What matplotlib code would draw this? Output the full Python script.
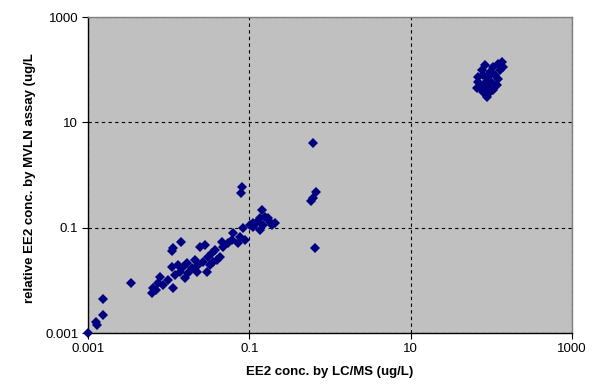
import matplotlib
matplotlib.use("Agg")
import matplotlib.pyplot as plt
from matplotlib.ticker import FixedLocator, FixedFormatter, NullLocator

plt.rcParams['font.family'] = ['Liberation Sans', 'DejaVu Sans']

# LC/MS concentration (ug/L) vs relative MVLN assay concentration (ug/L)
lcms = [0.001, 0.00126, 0.00128, 0.00152, 0.00152, 0.00338, 0.00644, 0.00743, 0.0078,
        0.00857, 0.00989, 0.0114, 0.012, 0.0109, 0.0132, 0.0138, 0.0152, 0.0159, 0.0167,
        0.0175, 0.0193, 0.0212, 0.0222, 0.0233, 0.0269, 0.0142, 0.0114, 0.0109, 0.0244,
        0.0062, 0.00697, 0.0282, 0.031, 0.0341, 0.0375, 0.0394, 0.0433, 0.0454, 0.0475,
        0.0548, 0.0604, 0.0631, 0.0728, 0.0764, 0.0839, 0.0881, 0.0296, 0.0325, 0.0354,
        0.0804, 0.0797, 0.142, 0.135, 0.156, 0.18, 0.123, 0.149, 0.135, 0.112, 0.102,
        0.189, 0.207, 0.171, 0.112, 0.608, 0.668, 0.62, 0.575, 0.65,
        68.6, 65.6, 87.3, 121, 134, 140, 83, 75.6, 95.7, 110, 121, 100, 83, 72, 91.2,
        116, 79, 105, 127, 91.2, 79, 68.6, 105, 95.7]
mvln = [0.001, 0.00162, 0.00142, 0.0022, 0.00436, 0.009, 0.00705, 0.00877, 0.0117,
        0.00815, 0.0101, 0.00705, 0.0126, 0.0181, 0.0195, 0.0146, 0.0181, 0.0109, 0.021,
        0.0136, 0.0169, 0.0243, 0.0146, 0.0195, 0.0225, 0.0526, 0.0416, 0.036, 0.0435,
        0.00574, 0.00655, 0.0468, 0.0281, 0.0325, 0.0376, 0.0243, 0.0281, 0.054, 0.0435,
        0.0504, 0.0582, 0.078, 0.0504, 0.0671, 0.097, 0.0582, 0.0146, 0.0195, 0.0222,
        0.582, 0.448, 0.216, 0.15, 0.161, 0.129, 0.129, 0.112, 0.09, 0.104, 0.112,
        0.112, 0.121, 0.15, 0.121, 4.08, 0.48, 0.36, 0.324, 0.0416,
        72.9, 44, 30.5, 131, 141, 113, 122, 98, 90.8, 78.7, 68, 58.7, 54.7, 47.2, 44,
        50.8, 37.9, 40.8, 98, 72.9, 78.7, 58.7, 113, 37.9]

tick_vals = [0.001, 0.1, 10, 1000]
tick_labels = ["0.001", "0.1", "10", "1000"]

fig = plt.figure(figsize=(6.0, 3.87), dpi=100)
ax = fig.add_axes([0.1467, 0.1395, 0.8067, 0.8165])
ax.set_facecolor('#C0C0C0')
ax.set_xscale('log')
ax.set_yscale('log')
ax.set_xlim(0.001, 1000)
ax.set_ylim(0.001, 1000)

for axis in (ax.xaxis, ax.yaxis):
    axis.set_major_locator(FixedLocator(tick_vals))
    axis.set_major_formatter(FixedFormatter(tick_labels))
    axis.set_minor_locator(NullLocator())

ax.grid(True, which='major', color='black', linestyle=(0, (3, 3)), linewidth=0.8)
ax.set_axisbelow(True)

ax.plot(lcms, mvln, linestyle='none', marker='D', markersize=4.8,
        color='#000080', markeredgewidth=0, clip_on=False, zorder=3)

ax.spines['left'].set_color('black')
ax.spines['bottom'].set_color('black')
ax.spines['top'].set_color('#808080')
ax.spines['right'].set_color('#808080')
for s in ax.spines.values():
    s.set_linewidth(1.0)

ax.tick_params(axis='both', which='major', direction='out', length=4, width=0.8,
               labelsize=9.5, colors='black', pad=3)

ax.set_xlabel('EE2 conc. by LC/MS (ug/L)', fontsize=9.5, fontweight='bold', labelpad=8)
ax.set_ylabel('relative EE2 conc. by MVLN assay (ug/L', fontsize=9.5, fontweight='bold',
              labelpad=7)
ax.yaxis.set_label_coords(-0.108, 0.49)

fig.savefig('out.png', dpi=100)
